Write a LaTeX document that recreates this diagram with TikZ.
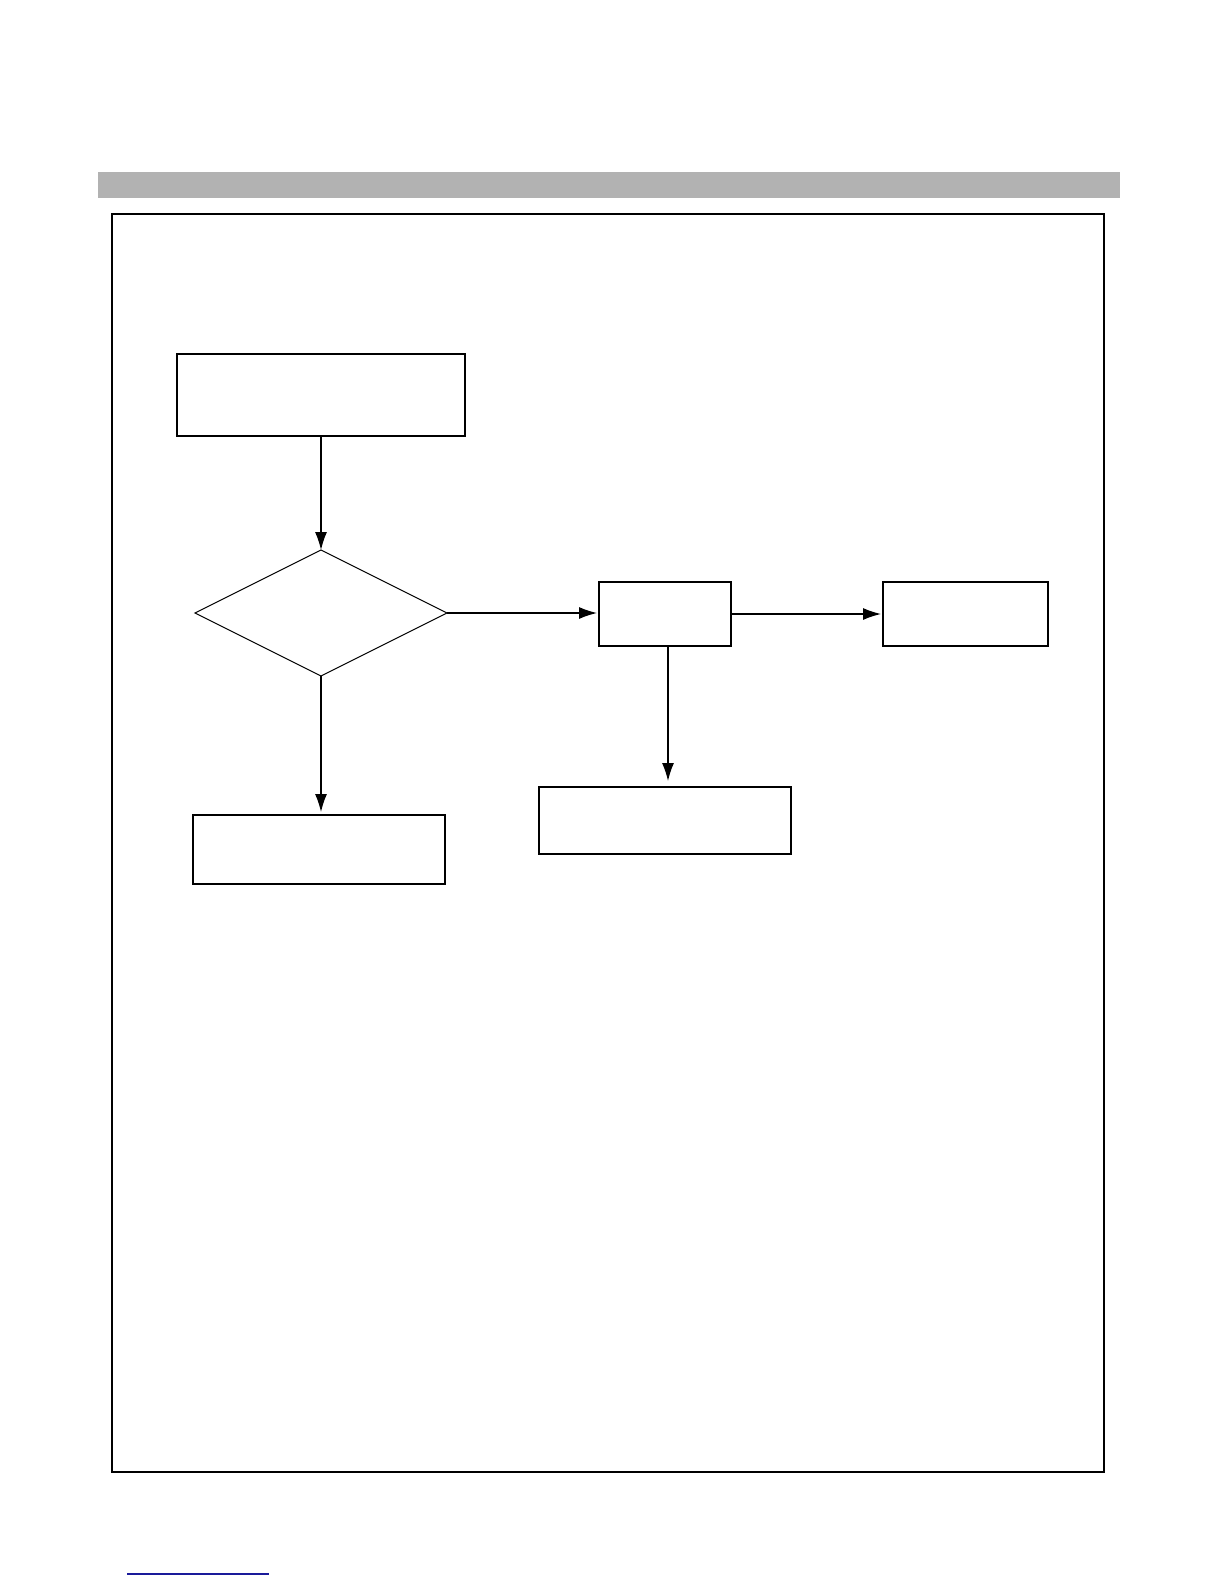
\documentclass[tikz,border=0pt]{standalone}
\usetikzlibrary{arrows.meta,shapes.geometric}
\definecolor{bargray}{HTML}{B2B2B2}
\definecolor{linkblue}{HTML}{1A1A9A}
\begin{document}
\begin{tikzpicture}[x=0.5pt,y=-0.5pt,
  boxnode/.style={draw,line width=0.65pt,inner sep=0pt,outer sep=0pt},
  decnode/.style={draw,diamond,line width=0.5pt,inner sep=0pt,outer sep=0pt,aspect=2},
  flow/.style={line width=0.6pt,-{Latex[length=9pt,width=6pt]}}]
\useasboundingbox (0,0) rectangle (1224,1584);
\fill[white] (0,0) rectangle (1224,1584);
% header bar
\fill[bargray] (98,172) rectangle (1120,198);
% outer frame
\draw[line width=0.7pt] (112,214) rectangle (1104,1472);
% nodes
\node[boxnode,minimum width=144pt,minimum height=41pt] (b1) at (321,395) {};
\node[decnode,minimum width=126pt,minimum height=63pt] (d) at (321,613) {};
\node[boxnode,minimum width=66pt,minimum height=32pt] (b2) at (665,614) {};
\node[boxnode,minimum width=82.5pt,minimum height=32pt] (b3) at (965.5,614) {};
\node[boxnode,minimum width=126pt,minimum height=33.5pt] (b4) at (665,820.5) {};
\node[boxnode,minimum width=126pt,minimum height=34.5pt] (b5) at (319,849.5) {};
\coordinate (b2s) at ([xshift=1.5pt]b2.south);
% connectors
\draw[flow] (b1.south -| d.north) -- (d.north);
\draw[flow,shorten >=1.5pt] (d.south) -- (d.south |- b5.north);
\draw[flow,shorten >=1pt] (d.east) -- (d.east -| b2.west);
\draw[flow,shorten >=1pt] (b2.east) -- (b2.east -| b3.west);
\draw[flow,shorten >=3pt] (b2s) -- (b2s |- b4.north);
% footer link line
\draw[linkblue,line width=0.75pt] (127,1574) -- (269,1574);
\end{tikzpicture}
\end{document}
